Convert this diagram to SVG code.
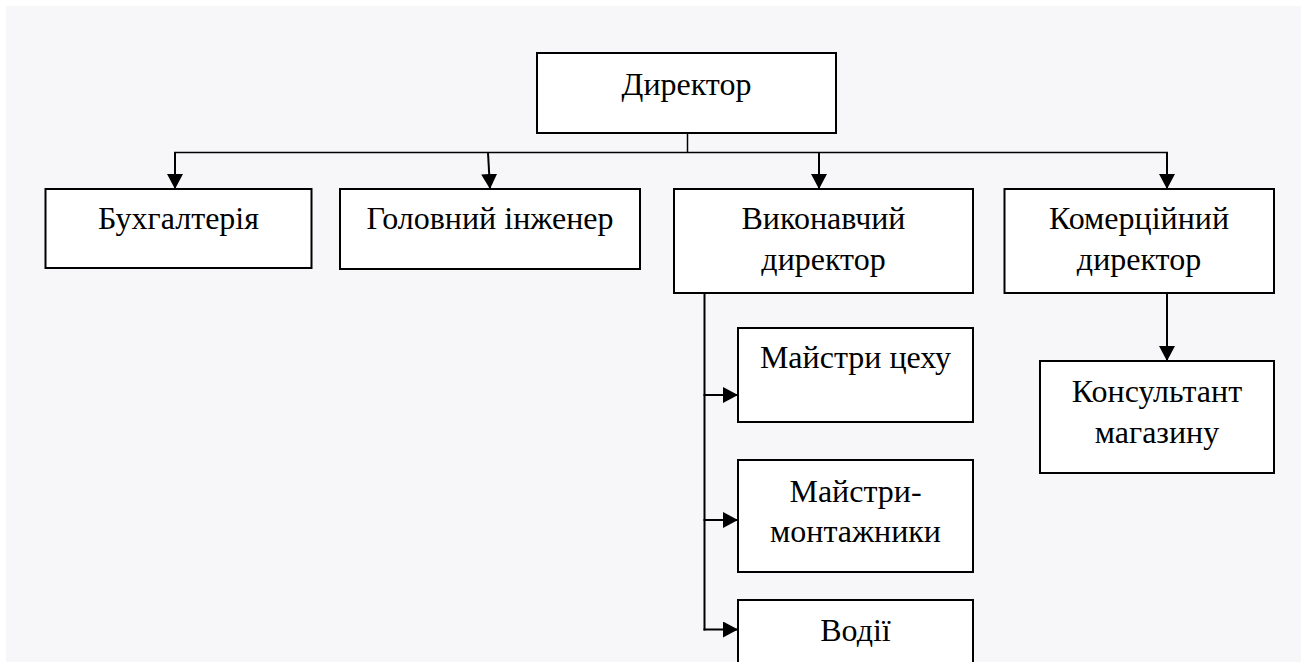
<svg xmlns="http://www.w3.org/2000/svg" width="1301" height="662" viewBox="0 0 1301 662">
<style>
.box{fill:#ffffff;stroke:#000000;stroke-width:2}
.t{font-family:"Liberation Serif","Times New Roman",serif;font-size:32px;fill:#000000;text-anchor:middle}
.c{fill:none;stroke:#000000;stroke-width:2}
.thin{fill:none;stroke:#000000;stroke-width:1.5}
</style>
<defs>
<marker id="arr" markerUnits="userSpaceOnUse" markerWidth="15" markerHeight="16" refX="15" refY="8" orient="auto">
<path d="M0,0 L15,8 L0,16 Z" fill="#000000"/>
</marker>
</defs>
<rect x="0" y="0" width="1301" height="662" fill="#ffffff"/>
<rect x="6" y="6" width="1295" height="656" fill="#f7f7f9"/>
<g id="connectors">
<line class="thin" x1="687.5" y1="133" x2="687.5" y2="152.5"/>
<line class="thin" x1="174" y1="152.5" x2="1168" y2="152.5"/>
<line class="c" x1="175" y1="152.5" x2="175" y2="189" marker-end="url(#arr)"/>
<line class="c" x1="488" y1="152.5" x2="490" y2="189" marker-end="url(#arr)"/>
<line class="c" x1="819" y1="152.5" x2="819" y2="189" marker-end="url(#arr)"/>
<line class="c" x1="1167" y1="152.5" x2="1167" y2="189" marker-end="url(#arr)"/>
<line class="c" x1="704.5" y1="293" x2="704.5" y2="630.5"/>
<line class="c" x1="703.5" y1="395" x2="738" y2="395" marker-end="url(#arr)"/>
<line class="c" x1="703.5" y1="520" x2="738" y2="520" marker-end="url(#arr)"/>
<line class="c" x1="703.5" y1="629.5" x2="738" y2="629.5" marker-end="url(#arr)"/>
<line class="c" x1="1167" y1="293" x2="1167" y2="361" marker-end="url(#arr)"/>
</g>
<g id="director">
<rect class="box" x="537" y="53" width="299" height="80"/>
<text class="t" x="686.5" y="95">Директор</text>
</g>
<g id="accounting">
<rect class="box" x="45.5" y="189" width="266" height="79"/>
<text class="t" x="178.5" y="229">Бухгалтерія</text>
</g>
<g id="chief-engineer">
<rect class="box" x="340" y="189" width="300" height="80"/>
<text class="t" x="490" y="229">Головний інженер</text>
</g>
<g id="exec-director">
<rect class="box" x="674" y="189" width="299" height="104"/>
<text class="t" x="823.5" y="229">Виконавчий</text>
<text class="t" x="823.5" y="270">директор</text>
</g>
<g id="commercial-director">
<rect class="box" x="1004.5" y="189" width="269.5" height="104"/>
<text class="t" x="1139" y="229">Комерційний</text>
<text class="t" x="1139" y="270">директор</text>
</g>
<g id="shop-masters">
<rect class="box" x="738" y="328" width="235" height="94"/>
<text class="t" x="855.5" y="368">Майстри цеху</text>
</g>
<g id="installers">
<rect class="box" x="738" y="460" width="235" height="112"/>
<text class="t" x="855.5" y="501.5">Майстри-</text>
<text class="t" x="855.5" y="541.5">монтажники</text>
</g>
<g id="drivers">
<rect class="box" x="738" y="600" width="235" height="80"/>
<text class="t" x="855.5" y="640.5">Водії</text>
</g>
<g id="consultant">
<rect class="box" x="1040" y="361" width="234" height="112"/>
<text class="t" x="1157" y="401.5">Консультант</text>
<text class="t" x="1157" y="443">магазину</text>
</g>
</svg>
